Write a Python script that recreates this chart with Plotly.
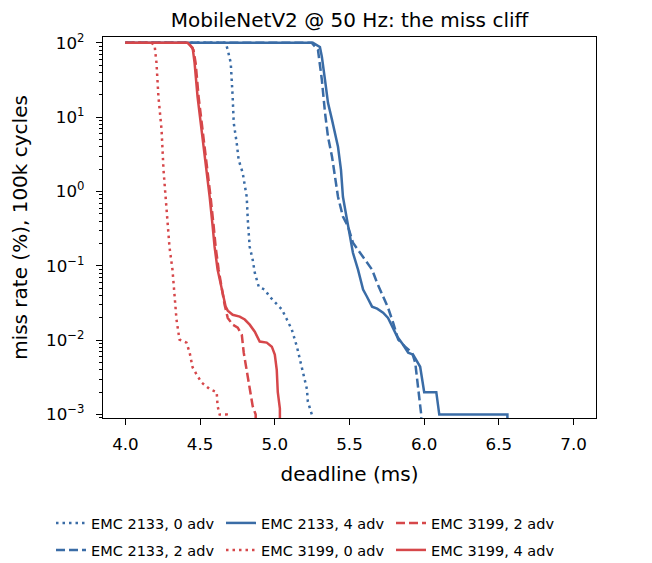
import plotly.graph_objects as go

# ---- data (deadline in ms, miss rate in %) ----
x_2133_0 = [4.0, 4.671, 4.685, 4.705, 4.718, 4.725, 4.745, 4.758, 4.785, 4.812, 4.819, 4.832, 4.852,
            4.866, 4.893, 4.933, 4.966, 5.0, 5.047, 5.081, 5.114, 5.148, 5.168, 5.188, 5.215, 5.221,
            5.248, 5.255]
y_2133_0 = [100, 100, 80.5, 53.8, 18.8, 8.4, 4.5, 2.67, 1.79, 0.85, 0.42, 0.18, 0.121, 0.081, 0.052,
            0.048, 0.0385, 0.033, 0.026, 0.019, 0.0139, 0.0082, 0.0055, 0.0037, 0.0022, 0.0015, 0.001, 0]

x_2133_2 = [4.0, 5.248, 5.289, 5.315, 5.336, 5.356, 5.383, 5.403, 5.423, 5.456, 5.490, 5.523, 5.570,
            5.617, 5.651, 5.685, 5.725, 5.758, 5.792, 5.826, 5.872, 5.919, 5.940, 5.960, 5.973, 5.980,
            5.986]
y_2133_2 = [100, 100, 80.5, 31.8, 11.5, 5.46, 2.94, 1.58, 0.85, 0.46, 0.34, 0.205, 0.150, 0.114,
            0.089, 0.059, 0.0385, 0.0274, 0.0172, 0.0102, 0.0082, 0.0068, 0.005, 0.0024, 0.0014,
            0.001, 0]

x_2133_4 = [4.0, 5.255, 5.302, 5.315, 5.336, 5.356, 5.383, 5.403, 5.423, 5.443, 5.456, 5.483, 5.503,
            5.523, 5.557, 5.591, 5.617, 5.651, 5.685, 5.725, 5.758, 5.785, 5.819, 5.859, 5.893, 5.926,
            5.973, 6.0, 6.081, 6.101, 6.557, 6.562]
y_2133_4 = [100, 100, 88, 64.9, 31.8, 15.6, 9.2, 6.2, 4.0, 1.96, 0.85, 0.42, 0.247, 0.150, 0.089,
            0.048, 0.0385, 0.0283, 0.0266, 0.0235, 0.020, 0.0152, 0.0112, 0.0087, 0.0068, 0.0064,
            0.0044, 0.002, 0.002, 0.001, 0.001, 0]

x_3199_0 = [4.0, 4.174, 4.195, 4.208, 4.221, 4.242, 4.255, 4.282, 4.295, 4.315, 4.329, 4.342, 4.362,
            4.409, 4.430, 4.450, 4.477, 4.510, 4.564, 4.611, 4.617, 4.631, 4.678, 4.685]
y_3199_0 = [100, 100, 94, 53.8, 18.8, 6.8, 1.96, 0.38, 0.18, 0.089, 0.044, 0.019, 0.0102, 0.0093,
            0.0068, 0.0043, 0.00345, 0.0027, 0.0022, 0.002, 0.0013, 0.001, 0.001, 0]

x_3199_2 = [4.0, 4.423, 4.456, 4.470, 4.490, 4.517, 4.544, 4.570, 4.591, 4.604, 4.624, 4.644, 4.664,
            4.685, 4.718, 4.752, 4.779, 4.792, 4.812, 4.832, 4.852, 4.872, 4.878]
y_3199_2 = [100, 100, 80, 53.8, 18.8, 6.8, 2.44, 0.85, 0.34, 0.18, 0.089, 0.048, 0.030, 0.020,
            0.0162, 0.0148, 0.0119, 0.0068, 0.004, 0.0022, 0.0013, 0.001, 0]

x_3199_4 = [4.0, 4.416, 4.450, 4.463, 4.483, 4.510, 4.537, 4.564, 4.584, 4.597, 4.617, 4.651, 4.671,
            4.685, 4.718, 4.765, 4.799, 4.832, 4.866, 4.899, 4.946, 4.980, 5.0, 5.013, 5.020, 5.034,
            5.04]
y_3199_4 = [100, 100, 85.7, 53.8, 18.8, 6.8, 2.44, 0.85, 0.34, 0.18, 0.089, 0.044, 0.0283, 0.025,
            0.022, 0.0208, 0.019, 0.0162, 0.013, 0.0096, 0.0093, 0.0082, 0.0064, 0.004, 0.002, 0.0012, 0]

x_ticks = [4.0, 4.5, 5.0, 5.5, 6.0, 6.5, 7.0]
x_tick_text = ["4.0", "4.5", "5.0", "5.5", "6.0", "6.5", "7.0"]
y_ticks = [1e-3, 1e-2, 1e-1, 1e0, 1e1, 1e2]
y_tick_text = ["10<sup>\u22123</sup>", "10<sup>\u22122</sup>", "10<sup>\u22121</sup>",
               "10<sup>0</sup>", "10<sup>1</sup>", "10<sup>2</sup>"]

BLUE = "#3a6ca6"
RED = "#d6474a"
FONT = "DejaVu Sans"
FLOOR = 1e-9  # zero miss rate drawn off the bottom of the log axis (clipped)


def clip(vals):
    return [v if v > 0 else FLOOR for v in vals]


DOT = "2.5px,4px"
DASH = "9px,4px"

series = [
    # (name, x, y, colour, dash, legend)
    ("EMC 2133, 0 adv", x_2133_0, y_2133_0, BLUE, DOT, "legend"),
    ("EMC 2133, 4 adv", x_2133_4, y_2133_4, BLUE, "solid", "legend"),
    ("EMC 3199, 2 adv", x_3199_2, y_3199_2, RED, DASH, "legend"),
    ("EMC 2133, 2 adv", x_2133_2, y_2133_2, BLUE, DASH, "legend2"),
    ("EMC 3199, 0 adv", x_3199_0, y_3199_0, RED, DOT, "legend2"),
    ("EMC 3199, 4 adv", x_3199_4, y_3199_4, RED, "solid", "legend2"),
]

fig = go.Figure()
for name, xs, ys, col, dash, lg in series:
    fig.add_trace(go.Scatter(
        x=xs, y=clip(ys), mode="lines", name=name, legend=lg,
        line=dict(color=col, width=2.5, dash=dash),
    ))

axis_common = dict(
    showline=True, linecolor="black", linewidth=1.3, mirror=True,
    ticks="outside", ticklen=6, tickwidth=1.3, tickcolor="black",
    showgrid=False, zeroline=False,
    tickfont=dict(family=FONT, size=16.7, color="black"),
)

fig.update_xaxes(
    range=[3.85, 7.15], tickvals=x_ticks, ticktext=x_tick_text, ticklabelstandoff=5,
    title=dict(text="deadline (ms)", font=dict(family=FONT, size=20, color="black"), standoff=13),
    **axis_common,
)
fig.update_yaxes(
    type="log", range=[-3.046, 2.079], tickvals=y_ticks, ticktext=y_tick_text, ticklabelstandoff=8,
    title=dict(text="miss rate (%), 100k cycles", font=dict(family=FONT, size=20, color="black"),
               standoff=16),
    minor=dict(ticks="outside", ticklen=3.3, tickwidth=1, tickcolor="black", dtick="D1"),
    **axis_common,
)

W, H = 644, 555          # page has an 8px body margin around the figure
ML, MR, MT, MB = 95, 56, 29, 145
PW, PH = W - ML - MR, H - MT - MB

legend_common = dict(
    orientation="h", xref="paper", yref="paper", xanchor="left", yanchor="middle",
    entrywidth=125, entrywidthmode="pixels", bgcolor="rgba(0,0,0,0)",
    font=dict(family=FONT, size=14.5, color="black"), itemwidth=30,
)

fig.update_layout(
    width=W, height=H,
    margin=dict(l=ML, r=MR, t=MT, b=MB, autoexpand=False),
    paper_bgcolor="white", plot_bgcolor="white",
    font=dict(family=FONT, color="black"),
    title=dict(text="MobileNetV2 @ 50 Hz: the miss cliff", x=0.5, xref="paper", xanchor="center",
               y=1 - 12 / H, yref="container", yanchor="middle",
               font=dict(family=FONT, size=20, color="black")),
    legend=dict(x=-52 / PW, y=-(523 - 418) / PH, **legend_common),
    legend2=dict(x=-52 / PW, y=-(550 - 418) / PH, **legend_common),
)

fig.write_html("out.html")
